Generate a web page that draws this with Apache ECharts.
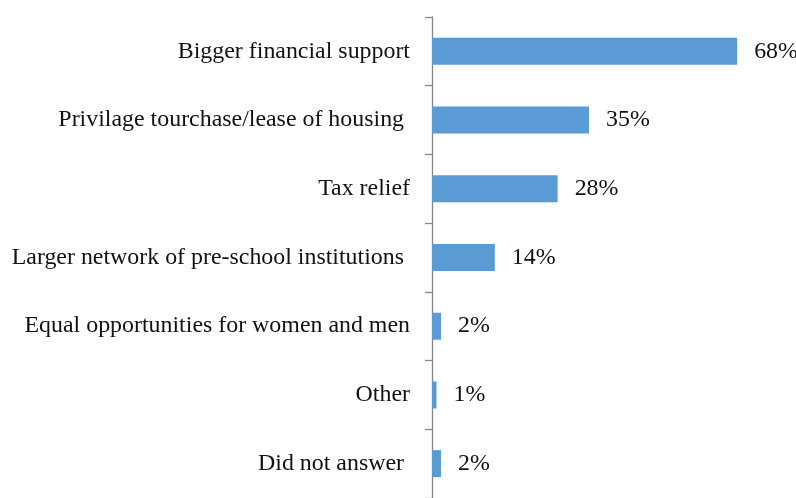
<!DOCTYPE html>
<html>
<head>
<meta charset="utf-8">
<script src="https://cdn.jsdelivr.net/npm/echarts@6/dist/echarts.min.js"></script>
<style>
  html, body { margin: 0; padding: 0; background: #fff; }
  #chart { width: 796px; height: 498px; }
</style>
</head>
<body>
<div id="chart"></div>
<script>
// Survey answers, listed top to bottom
const categories = [
  'Bigger financial support',
  'Privilage tourchase/lease of housing ',
  'Tax relief',
  'Larger network of pre-school institutions ',
  'Equal opportunities for women and men',
  'Other',
  'Did not answer '
];
// Share of respondents, percent
const shares = [68, 35, 28, 14, 2, 1, 2];

const chart = echarts.init(document.getElementById('chart'), null, { renderer: 'canvas' });
const font = '"Liberation Serif", "Times New Roman", serif';

chart.setOption({
  animation: false,
  backgroundColor: '#ffffff',
  grid: { left: 432, top: 17, right: 5, bottom: -2, containLabel: false },
  xAxis: {
    type: 'value',
    min: 0,
    max: 80,
    show: false
  },
  yAxis: {
    type: 'category',
    inverse: true,
    data: categories,
    axisLine: { show: true, lineStyle: { color: '#868686', width: 1.3 } },
    axisTick: { show: true, length: 7, lineStyle: { color: '#868686', width: 1.3 } },
    axisLabel: { margin: 22, color: '#111', fontFamily: font, fontSize: 23.9 },
    splitLine: { show: false }
  },
  series: [{
    type: 'bar',
    data: shares,
    barWidth: 27,
    itemStyle: { color: '#5B9BD5' },
    label: {
      show: true,
      position: 'right',
      distance: 17,
      formatter: p => p.value + '%',
      color: '#111',
      fontFamily: font,
      fontSize: 23.9
    }
  }]
});
</script>
</body>
</html>
